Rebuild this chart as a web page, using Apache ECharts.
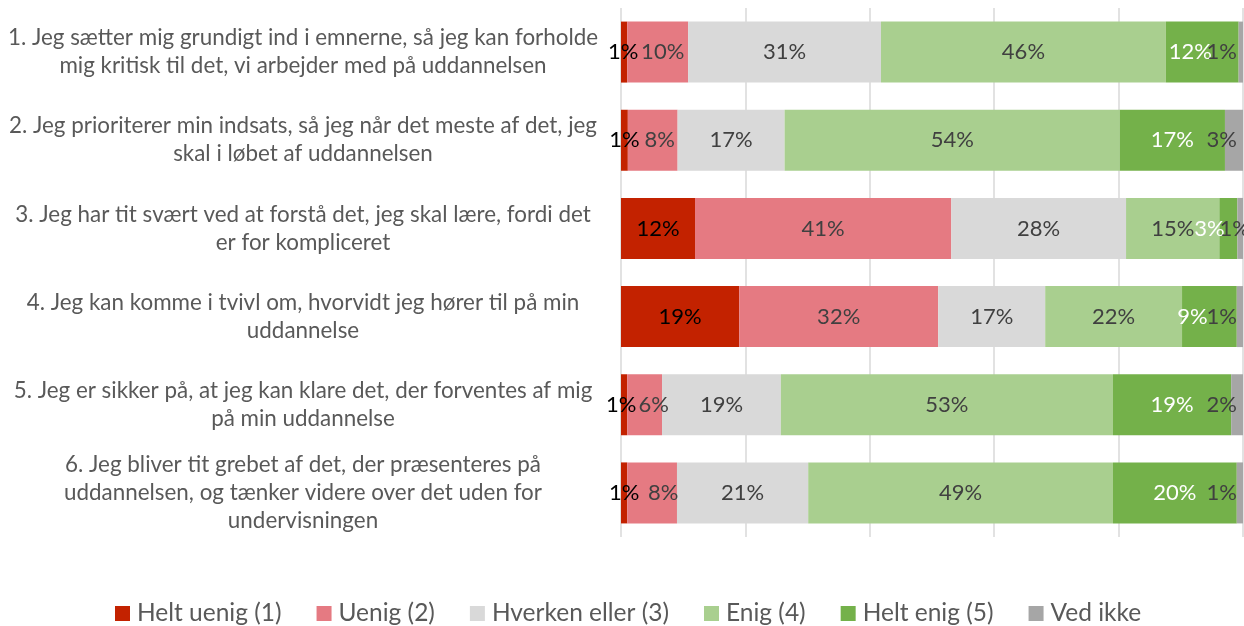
<!DOCTYPE html>
<html>
<head>
<meta charset="utf-8">
<script src="https://cdn.jsdelivr.net/npm/echarts@6/dist/echarts.min.js"></script>
<style>
html,body{margin:0;padding:0;background:#fff;}
#chart{width:1244px;height:626px;}
</style>
</head>
<body>
<div id="chart"></div>
<script>
const categories = [
  "1. Jeg sætter mig grundigt ind i emnerne, så jeg kan forholde\nmig kritisk til det, vi arbejder med på uddannelsen",
  "2. Jeg prioriterer min indsats, så jeg når det meste af det, jeg\nskal i løbet af uddannelsen",
  "3. Jeg har tit svært ved at forstå det, jeg skal lære, fordi det\ner for kompliceret",
  "4. Jeg kan komme i tvivl om, hvorvidt jeg hører til på min\nuddannelse",
  "5. Jeg er sikker på, at jeg kan klare det, der forventes af mig\npå min uddannelse",
  "6. Jeg bliver tit grebet af det, der præsenteres på\nuddannelsen, og tænker videre over det uden for\nundervisningen"
];
const seriesNames = ["Helt uenig (1)", "Uenig (2)", "Hverken eller (3)", "Enig (4)", "Helt enig (5)", "Ved ikke"];
const heltUenig = [1.0, 1.1, 11.9, 19.0, 1.0, 1.0];
const uenig     = [9.8, 8.0, 41.2, 32.0, 5.6, 8.0];
const hverken   = [31.0, 17.2, 28.1, 17.2, 19.1, 21.1];
const enig      = [45.8, 53.9, 15.0, 22.0, 53.4, 49.0];
const heltEnig  = [11.7, 16.9, 2.9, 8.8, 19.0, 19.9];
const vedIkke   = [0.7, 2.9, 0.9, 1.0, 1.9, 1.0];
const xTicks = [0, 20, 40, 60, 80, 100];

const values = [heltUenig, uenig, hverken, enig, heltEnig, vedIkke];
const colors = ["#C32200", "#E57A82", "#D9D9D9", "#A9CF8F", "#74B14A", "#A6A6A6"];
const labelColors = ["#000000", "#404040", "#404040", "#404040", "#FFFFFF", "#404040"];
// label nudges (layout only): one row per series, one entry per category
const labelNudges = [
  [-1, 0, 0, 0, -3, 0],
  [5, 7, 0, 0, 9, 11],
  [0, 0, 0, 0, 0, 0],
  [0, 0, 0, 0, 0, 0],
  [-12, 0, -19, -17, 0, 0],
  [0, 0, 13, 0, 0, 0]
];

const FONT = "Lato, 'Open Sans', sans-serif";

const series = values.map((arr, si) => ({
  name: seriesNames[si],
  type: 'bar',
  stack: 'total',
  barWidth: 61,
  itemStyle: { color: colors[si] },
  label: {
    show: true,
    position: si === 5 ? 'insideRight' : 'inside',
    distance: 6,
    color: labelColors[si],
    fontFamily: FONT,
    fontSize: 22,
    formatter: p => Math.round(p.value) + '%'
  },
  labelLayout: params => ({ dx: labelNudges[si][params.dataIndex], hideOverlap: false }),
  emphasis: { disabled: true },
  data: arr
}));

const chart = echarts.init(document.getElementById('chart'));
chart.setOption({
  animation: false,
  textStyle: { fontFamily: FONT },
  grid: { left: 621, right: 1, top: 8, height: 529, containLabel: false },
  xAxis: {
    type: 'value',
    min: xTicks[0],
    max: xTicks[xTicks.length - 1],
    interval: xTicks[1] - xTicks[0],
    axisLabel: { show: false },
    axisLine: { show: false },
    axisTick: { show: false },
    splitLine: { show: true, lineStyle: { color: '#D9D9D9', width: 1.5 } }
  },
  yAxis: {
    type: 'category',
    inverse: true,
    data: categories,
    axisLine: { show: false },
    axisTick: { show: false },
    axisLabel: {
      align: 'center',
      margin: 318,
      color: '#595959',
      fontFamily: FONT,
      fontSize: 22.4,
      lineHeight: 28
    }
  },
  legend: {
    top: 596,
    left: 110,
    icon: 'rect',
    itemWidth: 15,
    itemHeight: 15,
    itemGap: 35,
    textStyle: { color: '#595959', fontFamily: FONT, fontSize: 24.5, padding: [0, 0, 0, 2] },
    data: seriesNames
  },
  series: series
});
</script>
</body>
</html>
